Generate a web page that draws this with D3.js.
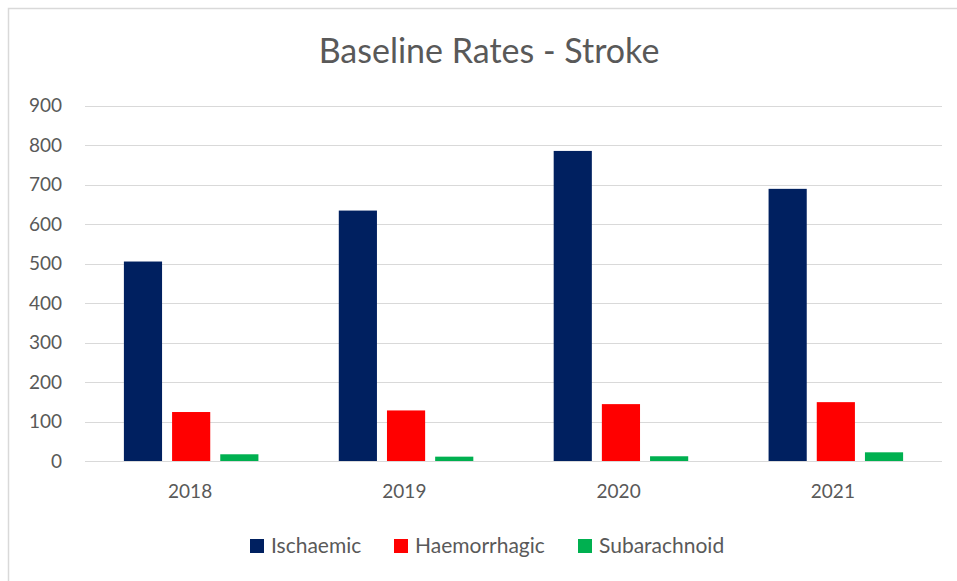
<!DOCTYPE html>
<html>
<head>
<meta charset="utf-8">
<script src="https://cdn.jsdelivr.net/npm/d3@7"></script>
<style>
  html, body { margin: 0; padding: 0; background: #fff; }
  svg { display: block; }
  text { font-family: Lato, "Open Sans", sans-serif; fill: #595959; }
</style>
</head>
<body>
<svg id="chart" width="957" height="581"></svg>
<script>
const title = "Baseline Rates - Stroke";
const categories = ["2018", "2019", "2020", "2021"];
const seriesNames = ["Ischaemic", "Haemorrhagic", "Subarachnoid"];
const ischaemic = [505, 634, 785, 689];
const haemorrhagic = [124, 128, 144, 149];
const subarachnoid = [17, 11, 12, 22];
const yTicks = [0, 100, 200, 300, 400, 500, 600, 700, 800, 900];
const colors = ["#002060", "#FF0000", "#00B050"];

const seriesValues = [ischaemic, haemorrhagic, subarachnoid];

const svg = d3.select("#chart");
const W = 957, H = 581;
const plot = { left: 85, right: 942, top: 105.5, bottom: 461 };
const FONT = "Lato, 'Open Sans', sans-serif";

// outer border (chart area, cropped at right/bottom)
svg.append("rect")
  .attr("x", 8.5).attr("y", 8.5)
  .attr("width", W + 10).attr("height", H + 10)
  .attr("fill", "#fff")
  .attr("stroke", "#D9D9D9").attr("stroke-width", 1.5);

const y = d3.scaleLinear().domain([0, 900]).range([plot.bottom, plot.top]);
const x0 = d3.scaleBand().domain(categories).range([plot.left, plot.right]).paddingInner(0.374).paddingOuter(0.181);
const x1 = d3.scaleBand().domain(seriesNames).range([0, x0.bandwidth()]).paddingInner(0.208);

// gridlines
svg.append("g")
  .selectAll("line")
  .data(yTicks)
  .join("line")
  .attr("x1", plot.left).attr("x2", plot.right)
  .attr("y1", d => Math.round(y(d)) + 0.5).attr("y2", d => Math.round(y(d)) + 0.5)
  .attr("stroke", "#D9D9D9").attr("stroke-width", 1.2);

// y axis labels
const yAxis = d3.axisLeft(y).tickValues(yTicks).tickSize(0).tickPadding(0);
const yg = svg.append("g").attr("transform", `translate(62,0)`).call(yAxis);
yg.select(".domain").remove();
yg.selectAll("text").attr("font-size", 19).attr("fill", "#595959")
  .style("font-family", FONT);

// bars
const data = categories.map((c, i) => ({ cat: c, vals: seriesNames.map((s, j) => ({ s, v: seriesValues[j][i], j })) }));
svg.append("g")
  .selectAll("g")
  .data(data)
  .join("g")
  .attr("transform", d => `translate(${x0(d.cat)},0)`)
  .selectAll("rect")
  .data(d => d.vals)
  .join("rect")
  .attr("x", d => x1(d.s))
  .attr("width", x1.bandwidth())
  .attr("y", d => y(d.v))
  .attr("height", d => y(0) - y(d.v))
  .attr("fill", d => colors[d.j]);

// x axis labels
const xCenter = d3.scaleBand().domain(categories).range([plot.left, plot.right]);
const xAxis = d3.axisBottom(xCenter).tickSize(0).tickPadding(0);
const xg = svg.append("g").attr("transform", `translate(-2,0)`).call(xAxis);
xg.select(".domain").remove();
xg.selectAll("text").attr("font-size", 19).attr("fill", "#595959")
  .attr("dy", null).attr("y", 498)
  .style("font-family", FONT);

// title
svg.append("text")
  .attr("x", 489).attr("y", 63)
  .attr("text-anchor", "middle")
  .attr("font-size", 34)
  .text(title);

// legend
const legendX = [250, 394, 578];
const lg = svg.append("g");
seriesNames.forEach((s, i) => {
  lg.append("rect").attr("x", legendX[i]).attr("y", 539).attr("width", 14).attr("height", 14).attr("fill", colors[i]);
  lg.append("text").attr("x", legendX[i] + 21).attr("y", 553).attr("font-size", 21).text(s);
});
</script>
</body>
</html>
